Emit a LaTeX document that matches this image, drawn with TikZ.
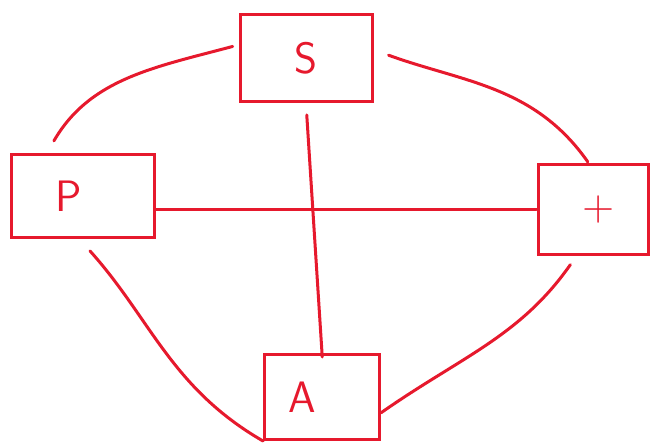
\documentclass[tikz,border=0pt]{standalone}
\usetikzlibrary{positioning}
\definecolor{inkred}{RGB}{230,25,45}
\begin{document}
\begin{tikzpicture}[x=1pt, y=1pt,
  box/.style={draw=inkred, line width=3pt, inner sep=0pt, text=inkred,
    font=\fontsize{44}{44}\selectfont\sffamily},
  link/.style={draw=inkred, line width=3pt, line cap=round},
]
  \useasboundingbox (0,0) rectangle (651,445);
  \node[box, minimum width=132pt, minimum height=87pt] (sbox) at (306,387) {S};
  \node[box, minimum width=143pt, minimum height=83pt] (pbox) at (83,249) {\hspace*{-28pt}P};
  \node[box, minimum width=110pt, minimum height=90pt] (plusbox) at (593,235) {\hspace*{12pt}+};
  \node[box, minimum width=115pt, minimum height=85pt] (abox) at (322,48) {\hspace*{-40pt}A};

  \draw[link] (pbox.east |- plusbox.west) -- (plusbox.west);
  \draw[link, shorten <=12pt, shorten >=-4pt] (sbox.south) -- (abox.north);
  \draw[link, shorten <=14pt, shorten >=6pt] (pbox.130) to[out=60, in=195] (sbox.169);
  \draw[link, shorten <=16pt, shorten >=2pt] (sbox.7) to[out=-20, in=125] (plusbox.95);
  \draw[link, shorten <=16pt] (pbox.-95) to[out=-48, in=150] (abox.south west);
  \draw[link, shorten >=10pt] (abox.-15) to[out=35, in=-125] (plusbox.-110);
\end{tikzpicture}
\end{document}
